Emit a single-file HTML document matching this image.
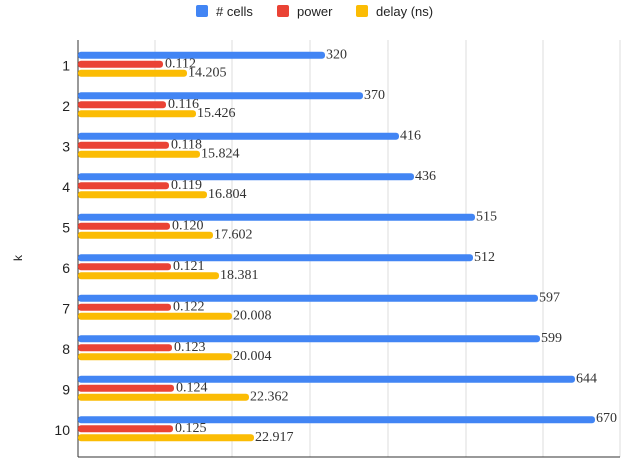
<!DOCTYPE html>
<html><head><style>
body{margin:0;background:#fff;width:634px;height:471px;overflow:hidden}
.v{font-family:"Liberation Serif",serif;font-size:14px;fill:#333}
.k{font-family:"Liberation Sans",sans-serif;font-size:14px;fill:#222;text-anchor:end}
</style></head><body>
<svg width="634" height="471" xmlns="http://www.w3.org/2000/svg">
<rect width="634" height="471" fill="#fff"/>
<g font-family="Liberation Sans, sans-serif" font-size="13" fill="#222">
<rect x="196" y="5" width="12" height="12" rx="2" fill="#4285f4"/><text x="216" y="16"># cells</text>
<rect x="277" y="5" width="12" height="12" rx="2" fill="#ea4335"/><text x="297" y="16">power</text>
<rect x="356" y="5" width="12" height="12" rx="2" fill="#fbbc04"/><text x="376" y="16">delay (ns)</text>
</g>
<g stroke="#ddd" stroke-width="1">
<line x1="155" y1="40" x2="155" y2="457"/><line x1="232" y1="40" x2="232" y2="457"/>
<line x1="310" y1="40" x2="310" y2="457"/><line x1="388" y1="40" x2="388" y2="457"/>
<line x1="466" y1="40" x2="466" y2="457"/><line x1="543" y1="40" x2="543" y2="457"/>
<line x1="620" y1="40" x2="620" y2="457"/>
</g>
<line x1="78" y1="40" x2="78" y2="457" stroke="#333"/>
<line x1="78" y1="457" x2="620" y2="457" stroke="#333"/>
<text transform="translate(22,258) rotate(-90)" font-family="Liberation Sans, sans-serif" font-size="12" fill="#222" text-anchor="middle">k</text>

<g transform="translate(0,51.7)">
<rect x="78" y="0" width="247" height="7" rx="3" fill="#4285f4"/><rect x="78" y="9" width="85" height="7" rx="3" fill="#ea4335"/><rect x="78" y="18" width="109" height="7" rx="3" fill="#fbbc04"/>
<text class="v" x="326" y="7">320</text><text class="v" x="165" y="16">0.112</text><text class="v" x="188" y="25">14.205</text><text class="k" x="70" y="19">1</text></g>
<g transform="translate(0,92.2)">
<rect x="78" y="0" width="285" height="7" rx="3" fill="#4285f4"/><rect x="78" y="9" width="88" height="7" rx="3" fill="#ea4335"/><rect x="78" y="18" width="118" height="7" rx="3" fill="#fbbc04"/>
<text class="v" x="364" y="7">370</text><text class="v" x="168" y="16">0.116</text><text class="v" x="197" y="25">15.426</text><text class="k" x="70" y="19">2</text></g>
<g transform="translate(0,132.7)">
<rect x="78" y="0" width="321" height="7" rx="3" fill="#4285f4"/><rect x="78" y="9" width="91" height="7" rx="3" fill="#ea4335"/><rect x="78" y="18" width="122" height="7" rx="3" fill="#fbbc04"/>
<text class="v" x="400" y="7">416</text><text class="v" x="171" y="16">0.118</text><text class="v" x="201" y="25">15.824</text><text class="k" x="70" y="19">3</text></g>
<g transform="translate(0,173.2)">
<rect x="78" y="0" width="336" height="7" rx="3" fill="#4285f4"/><rect x="78" y="9" width="91" height="7" rx="3" fill="#ea4335"/><rect x="78" y="18" width="129" height="7" rx="3" fill="#fbbc04"/>
<text class="v" x="415" y="7">436</text><text class="v" x="171" y="16">0.119</text><text class="v" x="208" y="25">16.804</text><text class="k" x="70" y="19">4</text></g>
<g transform="translate(0,213.7)">
<rect x="78" y="0" width="397" height="7" rx="3" fill="#4285f4"/><rect x="78" y="9" width="92" height="7" rx="3" fill="#ea4335"/><rect x="78" y="18" width="135" height="7" rx="3" fill="#fbbc04"/>
<text class="v" x="476" y="7">515</text><text class="v" x="172" y="16">0.120</text><text class="v" x="214" y="25">17.602</text><text class="k" x="70" y="19">5</text></g>
<g transform="translate(0,254.2)">
<rect x="78" y="0" width="395" height="7" rx="3" fill="#4285f4"/><rect x="78" y="9" width="93" height="7" rx="3" fill="#ea4335"/><rect x="78" y="18" width="141" height="7" rx="3" fill="#fbbc04"/>
<text class="v" x="474" y="7">512</text><text class="v" x="173" y="16">0.121</text><text class="v" x="220" y="25">18.381</text><text class="k" x="70" y="19">6</text></g>
<g transform="translate(0,294.7)">
<rect x="78" y="0" width="460" height="7" rx="3" fill="#4285f4"/><rect x="78" y="9" width="93" height="7" rx="3" fill="#ea4335"/><rect x="78" y="18" width="154" height="7" rx="3" fill="#fbbc04"/>
<text class="v" x="539" y="7">597</text><text class="v" x="173" y="16">0.122</text><text class="v" x="233" y="25">20.008</text><text class="k" x="70" y="19">7</text></g>
<g transform="translate(0,335.2)">
<rect x="78" y="0" width="462" height="7" rx="3" fill="#4285f4"/><rect x="78" y="9" width="94" height="7" rx="3" fill="#ea4335"/><rect x="78" y="18" width="154" height="7" rx="3" fill="#fbbc04"/>
<text class="v" x="541" y="7">599</text><text class="v" x="174" y="16">0.123</text><text class="v" x="233" y="25">20.004</text><text class="k" x="70" y="19">8</text></g>
<g transform="translate(0,375.7)">
<rect x="78" y="0" width="497" height="7" rx="3" fill="#4285f4"/><rect x="78" y="9" width="96" height="7" rx="3" fill="#ea4335"/><rect x="78" y="18" width="171" height="7" rx="3" fill="#fbbc04"/>
<text class="v" x="576" y="7">644</text><text class="v" x="176" y="16">0.124</text><text class="v" x="250" y="25">22.362</text><text class="k" x="70" y="19">9</text></g>
<g transform="translate(0,416.2)">
<rect x="78" y="0" width="517" height="7" rx="3" fill="#4285f4"/><rect x="78" y="9" width="95" height="7" rx="3" fill="#ea4335"/><rect x="78" y="18" width="176" height="7" rx="3" fill="#fbbc04"/>
<text class="v" x="596" y="6" font-size="12">670</text><text class="v" x="175" y="16">0.125</text><text class="v" x="255" y="25">22.917</text><text class="k" x="70" y="19">10</text></g>
</svg>
</body></html>
